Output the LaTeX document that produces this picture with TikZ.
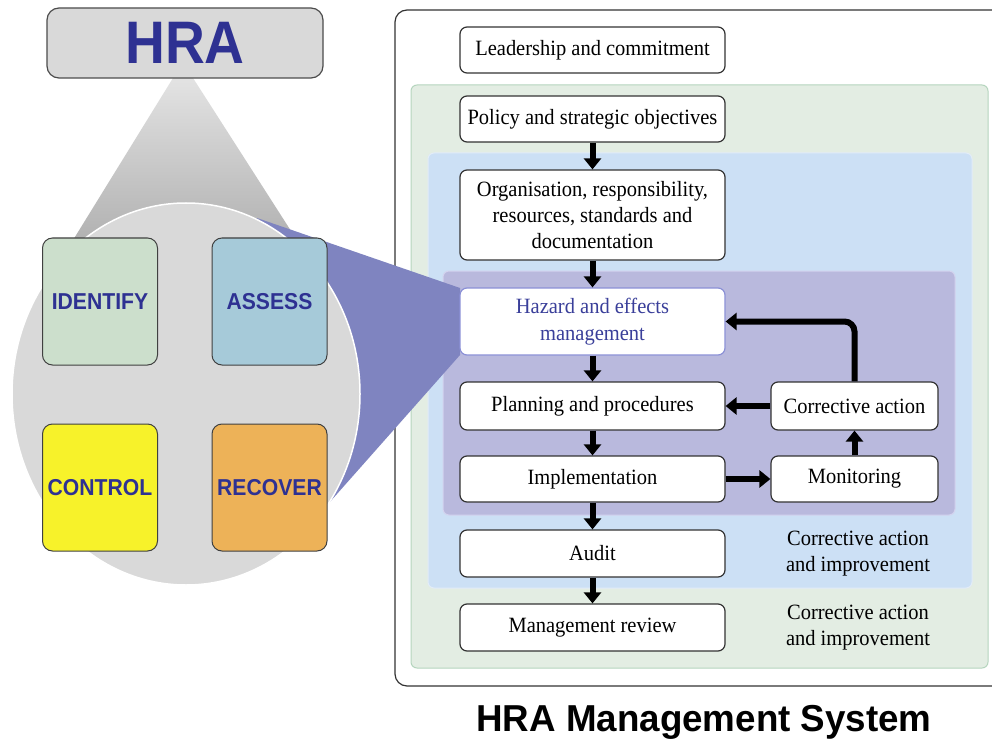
\documentclass[tikz,border=0pt]{standalone}
\usepackage{fontspec}
\setmainfont{Liberation Serif}
\newfontfamily\hsans[FakeStretch=0.92]{Liberation Sans}
\newfontfamily\tsans[FakeStretch=0.98]{Liberation Sans}
\newfontfamily\bserif[FakeStretch=0.94]{Liberation Serif}
\usetikzlibrary{arrows.meta}
\definecolor{hraBlue}{HTML}{2E3192}
\definecolor{boxGray}{HTML}{D9D9D9}
\definecolor{wedgeC}{HTML}{7F84C0}
\definecolor{idC}{HTML}{CCDFCC}
\definecolor{asC}{HTML}{A6CAD9}
\definecolor{coC}{HTML}{F7F22A}
\definecolor{reC}{HTML}{EDB258}
\definecolor{greenP}{HTML}{E3EDE3}
\definecolor{greenB}{HTML}{B5D5BE}
\definecolor{blueP}{HTML}{CCE0F5}
\definecolor{blueB}{HTML}{E2ECF8}
\definecolor{purpP}{HTML}{B9B9DD}
\definecolor{purpB}{HTML}{D3D3EE}
\definecolor{hazB}{HTML}{8B90D6}
\definecolor{hazT}{HTML}{3A3F9A}
\begin{document}
\begin{tikzpicture}[x=1pt,y=-1pt,
  flowbox/.style={draw=black!80, line width=1.2pt, fill=white, rounded corners=7pt,
    minimum width=265pt, minimum height=46pt, align=center, inner sep=2pt,
    font=\bserif\fontsize{21.8}{26}\selectfont},
  sidebox/.style={flowbox, minimum width=167pt, minimum height=47pt},
  quad/.style={draw=black!75, line width=1pt, rounded corners=10pt,
    minimum width=115pt, minimum height=127pt,
    font=\hsans\bfseries\fontsize{23}{26}\selectfont, text=hraBlue},
  arr/.style={line width=6pt, -{Triangle[width=17pt,length=11pt]}},
  note/.style={align=center, font=\bserif\fontsize{21.8}{26}\selectfont}
]
\useasboundingbox (0,0) rectangle (992,743);
\begin{scope}
\clip (0,0) rectangle (992,743);
% right panels
\draw[fill=white, draw=black!80, line width=1.2pt, rounded corners=12pt] (395,10) rectangle (1012,686);
\draw[fill=greenP, draw=greenB, line width=1pt, rounded corners=6pt] (411,85) rectangle (988,668);
\draw[fill=blueP, draw=blueB, line width=1pt, rounded corners=6pt] (428,153) rectangle (972,588);
\draw[fill=purpP, draw=purpB, line width=1pt, rounded corners=6pt] (443,271) rectangle (955,515);
% left part
\shade[top color=gray!22, bottom color=gray!62] (173,78) -- (193,78) -- (300,245) -- (70,245) -- cycle;
\fill[wedgeC] (257,218) -- (460,288) -- (460,355) -- (329,503) -- (186,394) -- cycle;
\filldraw[fill=boxGray, draw=white, line width=1.5pt] (186,394) ellipse [x radius=174pt, y radius=191pt];
\end{scope}
\node[draw=black!70, line width=1.2pt, fill=boxGray, rounded corners=12pt,
  minimum width=276pt, minimum height=70pt, text=hraBlue,
  font=\hsans\bfseries\fontsize{60}{60}\selectfont] (hra) at (185,43) {HRA};
\node[quad, fill=idC] (identify) at (100,301.5) {IDENTIFY};
\node[quad, fill=asC] (assess) at (269.5,301.5) {ASSESS};
\node[quad, fill=coC] (control) at (100,487.5) {CONTROL};
\node[quad, fill=reC] (recover) at (269.5,487.5) {RECOVER};
% boxes
\node[flowbox] (lead) at (592.5,50) {Leadership and commitment};
\node[flowbox] (pol) at (592.5,119) {Policy and strategic objectives};
\node[flowbox, minimum height=90pt] (org) at (592.5,215) {Organisation, responsibility,\\resources, standards and\\documentation};
\node[flowbox, minimum height=67pt, draw=hazB, text=hazT, font=\bserif\fontsize{21.8}{27}\selectfont] (haz) at (592.5,321.5) {Hazard and effects\\management};
\node[flowbox, minimum height=48pt] (plan) at (592.5,406) {Planning and procedures};
\node[flowbox] (impl) at (592.5,479) {Implementation};
\node[flowbox, minimum height=47pt] (audit) at (592.5,553.5) {Audit};
\node[flowbox, minimum height=47pt] (mgmt) at (592.5,627.5) {Management review};
\node[sidebox, minimum height=48pt] (corr) at (854.5,406) {Corrective action};
\node[sidebox, minimum height=46pt] (mon) at (854.5,479) {Monitoring};
\node[note] (n1) at (858,554) {Corrective action\\and improvement};
\node[note] (n2) at (858,628) {Corrective action\\and improvement};
% arrows
\draw[arr] (pol) -- (org);
\draw[arr] (org) -- (haz);
\draw[arr] (haz) -- (plan);
\draw[arr] (plan) -- (impl);
\draw[arr] (impl) -- (audit);
\draw[arr] (audit) -- (mgmt);
\draw[arr] (impl) -- (mon);
\draw[arr] (mon) -- (corr);
\draw[arr] (corr) -- (plan);
\draw[arr, rounded corners=10pt] (corr.north) |- (haz.east);
% title
\node[font=\tsans\bfseries\fontsize{37.5}{40}\selectfont] (title) at (704,722) {HRA Management System};
\end{tikzpicture}
\end{document}
